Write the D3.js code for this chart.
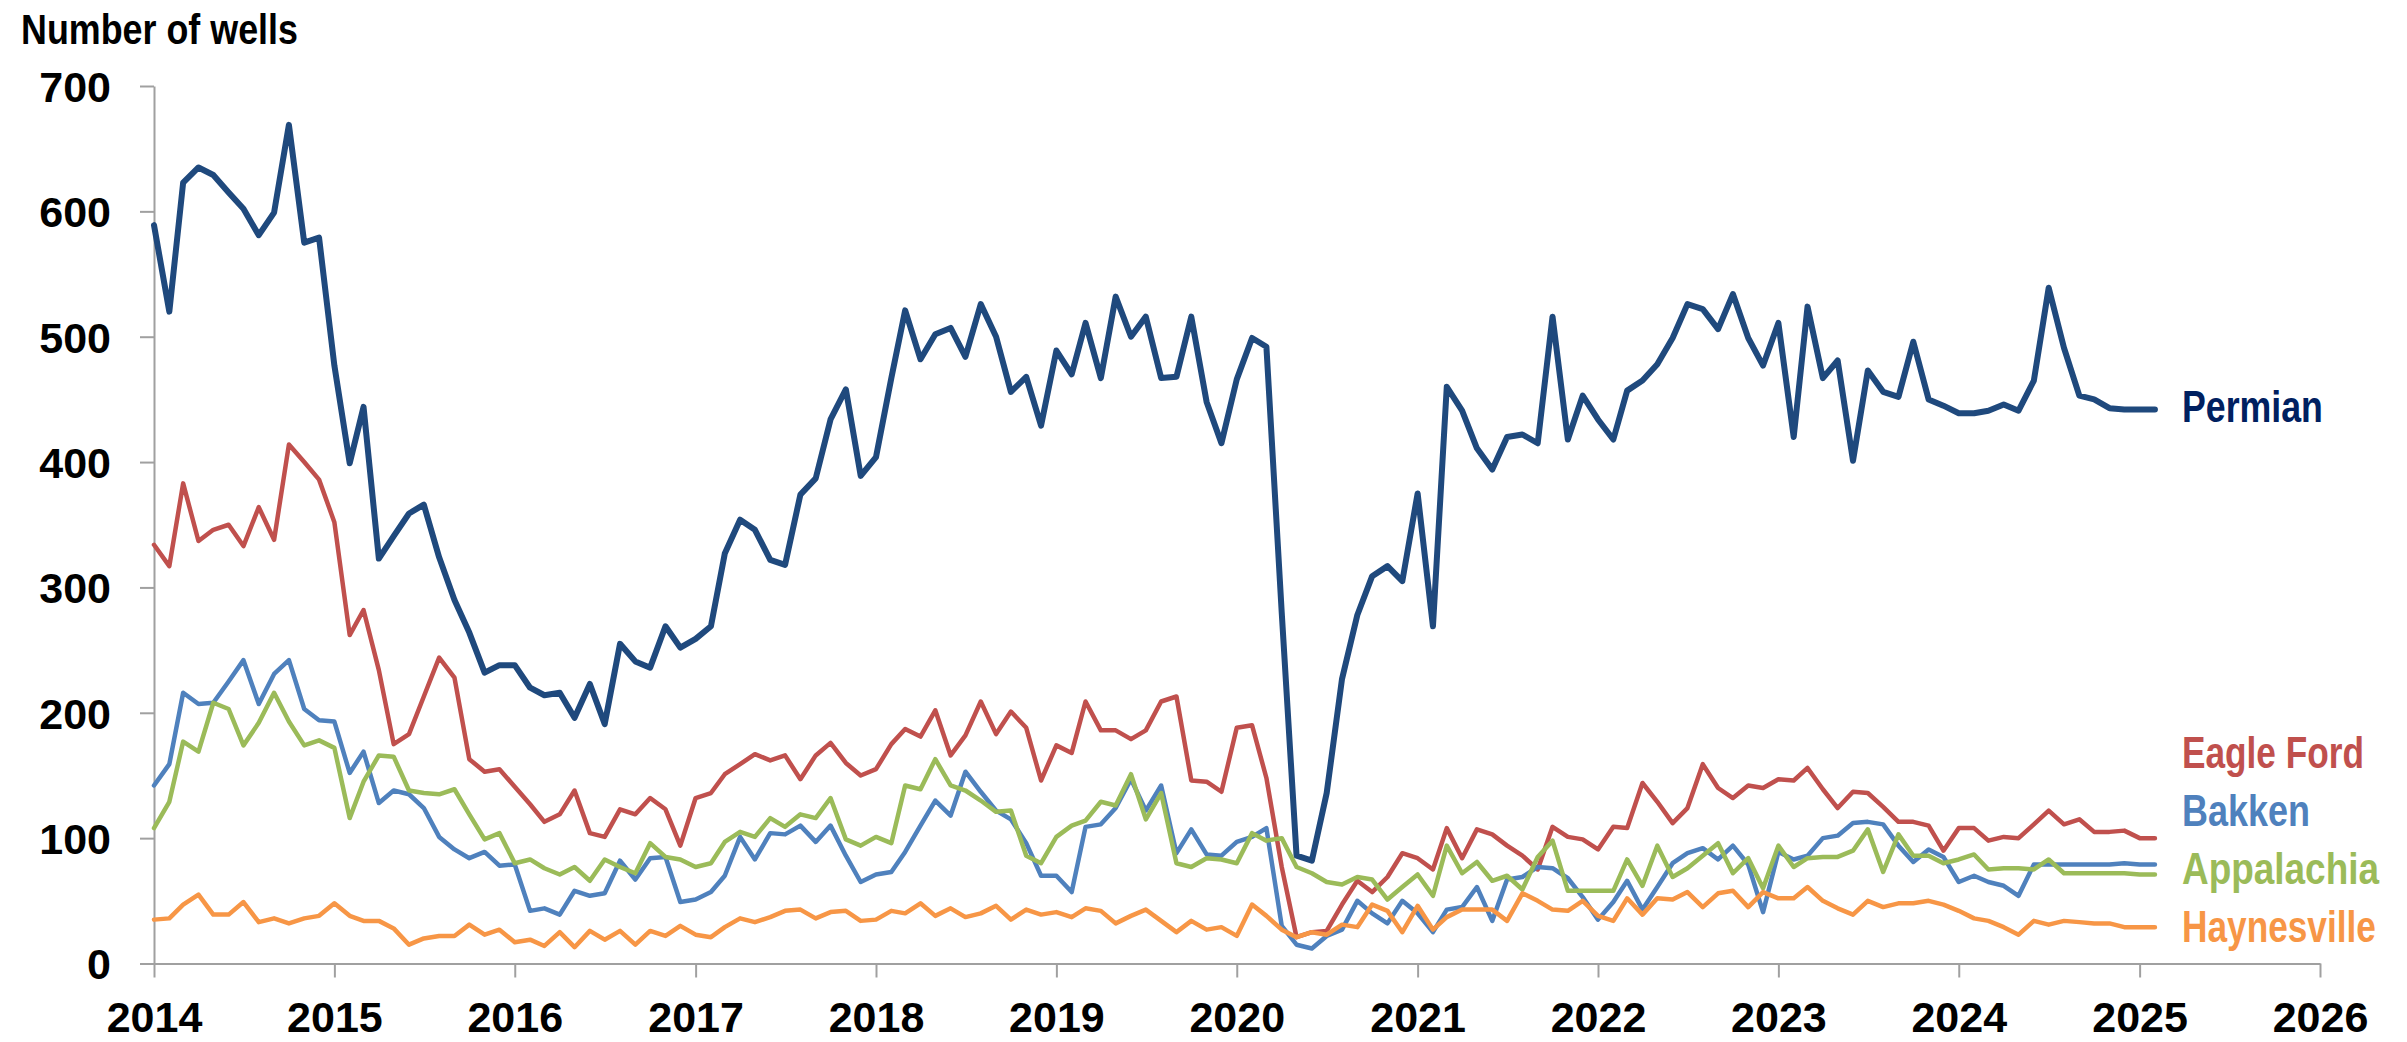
<!DOCTYPE html>
<html>
<head>
<meta charset="utf-8">
<script src="https://cdn.jsdelivr.net/npm/d3@7"></script>
<style>
    body { margin: 0; background: #fff; }
    .tick text { font-family: "Liberation Sans", Arial, sans-serif; font-weight: bold; fill: #000; }
</style>
</head>
<body>
<div id="chart"></div>
<script>
// Monthly well counts, Jan 2014 .. Feb 2025
const firstMonth = new Date(2014, 0, 1);

const yearTicks = [2014, 2015, 2016, 2017, 2018, 2019, 2020, 2021, 2022, 2023, 2024, 2025, 2026];
const valueTicks = [0, 100, 200, 300, 400, 500, 600, 700];

const basins = ["Permian", "Eagle Ford", "Bakken", "Appalachia", "Haynesville"];

const permian = [
    589, 520, 623, 635, 629, 615, 602, 581, 599, 669, 575, 579,
    477, 399, 444, 323, 341, 359, 366, 324, 290, 264, 232, 238,
    238, 220, 214, 216, 196, 223, 191, 255, 241, 236, 269, 252,
    259, 269, 327, 354, 346, 322, 318, 374, 387, 434, 458, 389,
    404, 467, 521, 482, 502, 507, 484, 526, 500, 456, 468, 429,
    489, 470, 511, 467, 532, 500, 516, 467, 468, 516, 448, 415,
    466, 499, 492, 280, 86, 82, 136, 227, 278, 309, 317, 305,
    375, 269, 460, 441, 411, 394, 420, 422, 415, 516, 418, 453,
    434, 418, 457, 465, 478, 499, 526, 522, 506, 534, 499, 477,
    511, 420, 524, 467, 481, 401, 473, 456, 452, 496, 450, 445,
    439, 439, 441, 446, 441, 465, 539, 491, 453, 450, 443, 442,
    442, 442
];

const eagleFord = [
    334, 317, 383, 337, 346, 350, 333, 364, 338, 414, 400, 386,
    352, 262, 282, 234, 175, 183, 213, 244, 228, 163, 153, 155,
    141, 127, 113, 119, 138, 104, 101, 123, 119, 132, 123, 94,
    132, 136, 151, 159, 167, 162, 166, 147, 166, 176, 160, 150,
    155, 175, 187, 181, 202, 166, 182, 209, 183, 201, 188, 146,
    174, 168, 209, 186, 186, 179, 186, 209, 213, 146, 145, 137,
    188, 190, 148, 77, 21, 25, 26, 47, 66, 57, 69, 88,
    84, 75, 108, 84, 107, 103, 94, 86, 75, 109, 101, 99,
    91, 109, 108, 144, 129, 112, 124, 159, 140, 132, 142, 140,
    147, 146, 156, 139, 124, 137, 136, 125, 113, 113, 110, 90,
    108, 108, 98, 101, 100, 111, 122, 111, 115, 105, 105, 106,
    100, 100
];

const bakken = [
    142, 159, 216, 207, 208, 225, 242, 207, 231, 242, 203, 194,
    193, 152, 169, 128, 138, 135, 124, 101, 91, 84, 89, 78,
    79, 42, 44, 39, 58, 54, 56, 82, 67, 84, 85, 49,
    51, 57, 70, 101, 83, 104, 103, 110, 97, 110, 86, 65,
    71, 73, 89, 110, 130, 118, 153, 137, 122, 115, 96, 70,
    70, 57, 109, 111, 124, 147, 122, 142, 88, 107, 87, 86,
    97, 101, 108, 30, 15, 12, 22, 27, 50, 40, 32, 50,
    40, 25, 43, 45, 61, 34, 67, 69, 77, 76, 68, 53,
    35, 49, 66, 43, 61, 80, 88, 92, 83, 94, 79, 41,
    89, 83, 86, 100, 102, 112, 113, 111, 94, 81, 91, 85,
    65, 70, 65, 62, 54, 79, 79, 79, 79, 79, 79, 80,
    79, 79
];

const appalachia = [
    108, 129, 177, 169, 208, 203, 174, 192, 216, 193, 174, 178,
    172, 116, 145, 166, 165, 138, 136, 135, 139, 119, 99, 104,
    80, 83, 76, 71, 77, 66, 83, 77, 72, 96, 85, 83,
    77, 80, 97, 105, 101, 116, 109, 119, 116, 132, 99, 94,
    101, 96, 142, 139, 163, 142, 138, 130, 121, 122, 86, 80,
    101, 110, 114, 129, 126, 151, 115, 136, 80, 77, 84, 83,
    80, 104, 98, 100, 77, 72, 65, 63, 69, 67, 51, 61,
    71, 54, 94, 72, 81, 66, 70, 59, 85, 98, 58, 58,
    58, 58, 83, 62, 94, 69, 76, 86, 96, 72, 84, 60,
    94, 77, 84, 85, 85, 90, 107, 73, 103, 86, 86, 80,
    83, 87, 75, 76, 76, 75, 83, 72, 72, 72, 72, 72,
    71, 71
];

const haynesville = [
    35, 36, 47, 55, 39, 39, 49, 33, 36, 32, 36, 38,
    48, 38, 34, 34, 28, 15, 20, 22, 22, 31, 23, 27,
    17, 19, 14, 25, 13, 26, 19, 26, 15, 26, 22, 30,
    23, 21, 29, 36, 33, 37, 42, 43, 36, 41, 42, 34,
    35, 42, 40, 48, 38, 44, 37, 40, 46, 35, 43, 39,
    41, 37, 44, 42, 32, 38, 43, 34, 25, 34, 27, 29,
    22, 47, 38, 27, 21, 25, 23, 31, 29, 47, 42, 25,
    46, 27, 37, 43, 43, 43, 34, 56, 50, 43, 42, 50,
    38, 34, 52, 39, 52, 51, 57, 45, 56, 58, 45, 57,
    52, 52, 61, 50, 44, 39, 50, 45, 48, 48, 50, 47,
    42, 36, 34, 29, 23, 34, 31, 34, 33, 32, 32, 29,
    29, 29
];

const seriesValues = [permian, eagleFord, bakken, appalachia, haynesville];
const lineColors = ["#1F497D", "#C0504D", "#4F81BD", "#9BBB59", "#F79646"];
const labelColors = ["#002060", "#C0504D", "#4F81BD", "#9BBB59", "#F79646"];

// Layout
const svgWidth = 2407;
const svgHeight = 1042;
const plotLeft = 154;
const plotRight = 2320;
const plotTop = 86;
const plotBottom = 963.5;
const labelX = 2182;
const labelBaselines = [422, 768, 826, 884, 942];
const labelWidths = [141, 182, 128, 197, 194]; // condensed look, no narrow font installed
const axisColor = "#A0A0A0";
const textFont = "'Liberation Sans', Arial, sans-serif";

// squeeze a text horizontally to a target width (stands in for a condensed face)
function squeeze(sel, tx, ty, width) {
    sel.attr("transform", function (d, i) {
        const w = typeof width === "function" ? width(d, i) : width;
        const px = typeof tx === "function" ? tx(d, i) : tx;
        const py = typeof ty === "function" ? ty(d, i) : ty;
        const natural = this.getComputedTextLength();
        return `translate(${px},${py}) scale(${w / natural},1)`;
    });
}

const svg = d3.select("#chart").append("svg")
    .attr("width", svgWidth)
    .attr("height", svgHeight)
    .style("background", "#fff");

const x = d3.scaleTime()
    .domain([new Date(yearTicks[0], 0, 1), new Date(yearTicks[yearTicks.length - 1], 0, 1)])
    .range([plotLeft, plotRight]);

const y = d3.scaleLinear()
    .domain([valueTicks[0], valueTicks[valueTicks.length - 1]])
    .range([plotBottom, plotTop]);

// Title
svg.append("text")
    .attr("class", "title")
    .attr("font-family", textFont)
    .attr("font-weight", "bold")
    .attr("font-size", 42)
    .attr("fill", "#000")
    .text("Number of wells")
    .call(squeeze, 21, 44, 277);

// Axes
const yAxis = svg.append("g")
    .attr("class", "y-axis")
    .attr("transform", `translate(${plotLeft},0)`)
    .call(d3.axisLeft(y).tickValues(valueTicks).tickSize(14).tickSizeOuter(0).tickPadding(29));

const xAxis = svg.append("g")
    .attr("class", "x-axis")
    .attr("transform", `translate(0,${plotBottom})`)
    .call(d3.axisBottom(x)
        .tickValues(yearTicks.map(yr => new Date(yr, 0, 1)))
        .tickFormat(d3.timeFormat("%Y"))
        .tickSize(14)
        .tickSizeOuter(0)
        .tickPadding(24));

[yAxis, xAxis].forEach(ax => {
    ax.select(".domain").attr("stroke", axisColor).attr("stroke-width", 2);
    ax.selectAll(".tick line").attr("stroke", axisColor).attr("stroke-width", 2);
    ax.selectAll(".tick text").attr("font-size", 43);
});
yAxis.selectAll(".tick text").attr("dy", "0.36em");

// Lines
const line = d3.line()
    .x((d, i) => x(d3.timeMonth.offset(firstMonth, i)))
    .y(d => y(d));

svg.append("g")
    .attr("class", "lines")
    .selectAll("path")
    .data(seriesValues)
    .join("path")
    .attr("d", d => line(d))
    .attr("fill", "none")
    .attr("stroke", (d, i) => lineColors[i])
    .attr("stroke-width", (d, i) => i === 0 ? 6 : 4.5)
    .attr("stroke-linejoin", "round")
    .attr("stroke-linecap", "round");

// Series labels
svg.append("g")
    .attr("class", "labels")
    .selectAll("text")
    .data(basins)
    .join("text")
    .attr("font-family", textFont)
    .attr("font-weight", "bold")
    .attr("font-size", 45)
    .attr("fill", (d, i) => labelColors[i])
    .text(d => d)
    .call(squeeze, labelX, (d, i) => labelBaselines[i], (d, i) => labelWidths[i]);
</script>
</body>
</html>
